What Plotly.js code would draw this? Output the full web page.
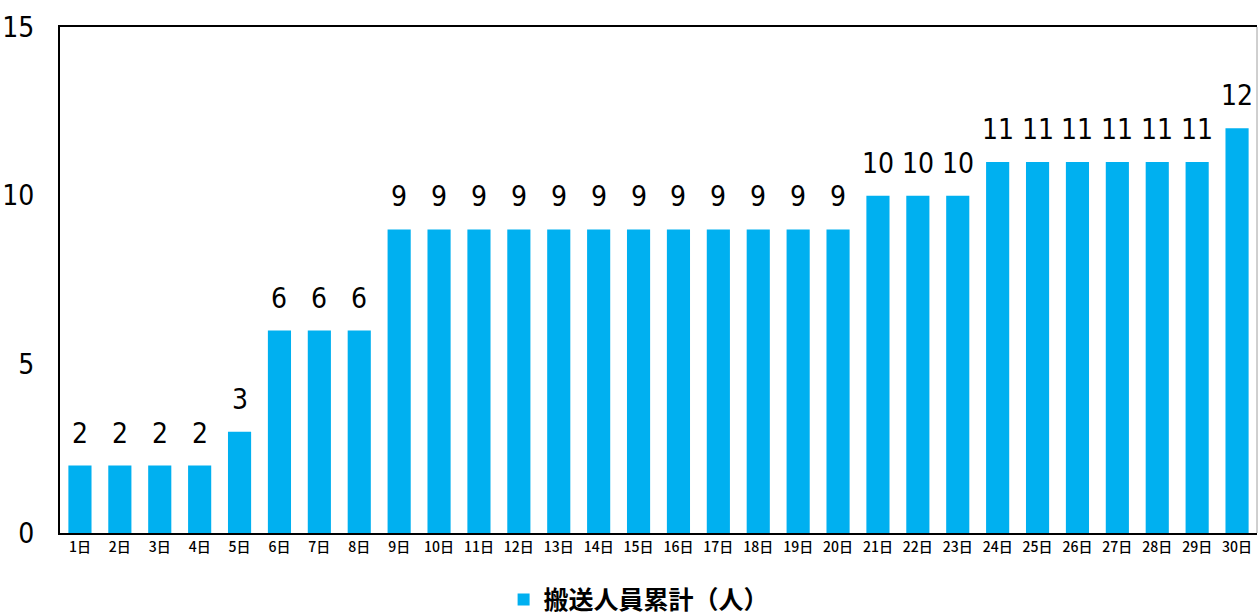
<!DOCTYPE html>
<html>
<head>
<meta charset="utf-8">
<script src="https://cdn.plot.ly/plotly-3.0.1.min.js"></script>
<style>html,body{margin:0;padding:0;background:#fff;}#chart{width:1259px;height:615px;}</style>
</head>
<body>
<div id="chart"></div>
<script>
const days = ["1日","2日","3日","4日","5日","6日","7日","8日","9日","10日","11日","12日","13日","14日","15日","16日","17日","18日","19日","20日","21日","22日","23日","24日","25日","26日","27日","28日","29日","30日"];
const cumulative = [2,2,2,2,3,6,6,6,9,9,9,9,9,9,9,9,9,9,9,9,10,10,10,11,11,11,11,11,11,12];
const seriesName = "搬送人員累計（人）";
const yTicks = [0,5,10,15];

const numFont = "'DejaVu Sans Condensed', 'Noto Sans CJK JP', sans-serif";
const jpFont = "'Noto Sans CJK JP', sans-serif";

const trace = {
  type: "bar",
  x: days,
  y: cumulative,
  name: seriesName,
  marker: {color: "#00B0F0"},
  showlegend: true,
  hoverinfo: "x+y"
};

const annotations = days.map((d, i) => ({
  x: d, y: cumulative[i], xref: "x", yref: "y",
  text: String(cumulative[i]), showarrow: false,
  yanchor: "bottom", yshift: 14,
  font: {family: numFont, size: 28, color: "#000"}
}));

const layout = {
  width: 1259, height: 615,
  margin: {l: 60, r: 2, t: 27, b: 82},
  paper_bgcolor: "#fff", plot_bgcolor: "#fff",
  bargap: 0.42,
  xaxis: {
    type: "category",
    showline: true, linecolor: "#000", linewidth: 2, mirror: true,
    showgrid: false, ticks: "",
    tickfont: {family: jpFont, size: 14, color: "#000", weight: 500},
    fixedrange: true
  },
  yaxis: {
    range: [0, 15], tickvals: yTicks, ticktext: yTicks.map(String),
    showline: true, linecolor: "#000", linewidth: 2,
    showgrid: false, zeroline: false, ticks: "",
    ticklabelstandoff: 18,
    tickfont: {family: numFont, size: 28, color: "#000"},
    fixedrange: true
  },
  shapes: [{type: "line", xref: "paper", yref: "paper", x0: 1, x1: 1, y0: 0, y1: 1,
    line: {color: "#a0a0a0", width: 1}}],
  showlegend: true,
  legend: {
    orientation: "h", xref: "container", yref: "container",
    x: 0.4, xanchor: "left", y: 0.025, yanchor: "middle",
    font: {family: jpFont, size: 25, color: "#000", weight: "bold"},
    itemwidth: 30
  },
  annotations: annotations
};

Plotly.newPlot("chart", [trace], layout, {displayModeBar: false, staticPlot: true});
</script>
</body>
</html>
